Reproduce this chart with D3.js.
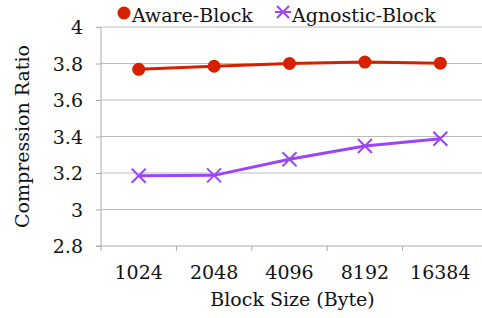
<!DOCTYPE html>
<html>
<head>
<meta charset="utf-8">
<script src="https://cdn.jsdelivr.net/npm/d3@7"></script>
<style>
  body { margin: 0; background: #fff; }
</style>
</head>
<body>
<svg class="chart"></svg>
<script>
var blockSizes = ["1024", "2048", "4096", "8192", "16384"];
var awareBlock = [3.768, 3.785, 3.800, 3.808, 3.802];
var agnosticBlock = [3.185, 3.187, 3.275, 3.348, 3.388];
var yTicks = [2.8, 3, 3.2, 3.4, 3.6, 3.8, 4];

var width = 482, height = 318;
var plotLeft = 101, plotRight = 478, plotTop = 27, plotBottom = 246;
var serif = "'DejaVu Serif', serif";
var fs = 19;

var svg = d3.select('.chart')
            .attr('width', width)
            .attr('height', height)
            .attr('font-family', serif);

var xScale = d3.scaleBand()
               .domain(blockSizes)
               .range([plotLeft, plotRight]);

var yScale = d3.scaleLinear()
               .domain([2.8, 4])
               .range([plotBottom, plotTop]);

// gridlines
svg.append('g')
   .selectAll('line')
   .data(yTicks.slice(1))
   .enter()
   .append('line')
   .attr('x1', plotLeft)
   .attr('x2', 482)
   .attr('y1', d => yScale(d))
   .attr('y2', d => yScale(d))
   .attr('stroke', '#bdbdbd')
   .attr('stroke-width', 1);

var yAxis = d3.axisLeft(yScale)
              .tickValues(yTicks)
              .tickFormat(d3.format('~g'))
              .tickSize(5)
              .tickPadding(13);

var gy = svg.append('g')
   .attr('transform', 'translate(' + plotLeft + ',0)')
   .call(yAxis);
gy.attr('font-family', serif).attr('font-size', fs);
gy.select('.domain').attr('stroke', '#aaa').attr('d', 'M0,' + plotTop + 'V' + plotBottom);
gy.selectAll('.tick line').attr('stroke', '#aaa');
gy.selectAll('.tick text').attr('dy', '0.35em').attr('fill', '#111');

var xAxis = d3.axisBottom(xScale).tickSize(0).tickPadding(20);
var gx = svg.append('g')
   .attr('transform', 'translate(0,' + plotBottom + ')')
   .call(xAxis);
gx.attr('font-family', serif).attr('font-size', fs);
gx.select('.domain').attr('stroke', '#aaa').attr('d', 'M' + (plotLeft - 5) + ',0H' + 482);
gx.selectAll('.tick text').attr('fill', '#111');

// tick marks at band boundaries
svg.append('g')
   .selectAll('line')
   .data(blockSizes)
   .enter()
   .append('line')
   .attr('x1', d => xScale(d))
   .attr('x2', d => xScale(d))
   .attr('y1', plotBottom)
   .attr('y2', plotBottom + 5)
   .attr('stroke', '#aaa');

svg.append('text')
   .attr('x', (plotLeft + plotRight) / 2 + 3)
   .attr('y', 306)
   .attr('text-anchor', 'middle')
   .attr('font-size', fs)
   .attr('fill', '#111')
   .text('Block Size (Byte)');

svg.append('text')
   .attr('transform', 'translate(29,' + ((plotTop + plotBottom) / 2) + ') rotate(-90)')
   .attr('text-anchor', 'middle')
   .attr('font-size', fs)
   .attr('fill', '#111')
   .text('Compression Ratio');

var red = '#d62000', purple = '#9b45fb';
var cx = d => xScale(d) + xScale.bandwidth() / 2;

var line = d3.line()
             .x((d, i) => cx(blockSizes[i]))
             .y(d => yScale(d));

svg.append('path')
   .datum(agnosticBlock)
   .attr('d', line)
   .attr('fill', 'none')
   .attr('stroke', purple)
   .attr('stroke-width', 3);

svg.selectAll('.xmark')
   .data(agnosticBlock)
   .enter()
   .append('path')
   .attr('class', 'xmark')
   .attr('transform', (d, i) => 'translate(' + cx(blockSizes[i]) + ',' + yScale(d) + ')')
   .attr('d', 'M-7,-7L7,7M-7,7L7,-7')
   .attr('stroke', purple)
   .attr('stroke-width', 2);

svg.append('path')
   .datum(awareBlock)
   .attr('d', line)
   .attr('fill', 'none')
   .attr('stroke', red)
   .attr('stroke-width', 3);

svg.selectAll('.dot')
   .data(awareBlock)
   .enter()
   .append('circle')
   .attr('class', 'dot')
   .attr('cx', (d, i) => cx(blockSizes[i]))
   .attr('cy', d => yScale(d))
   .attr('r', 6.5)
   .attr('fill', red);

// legend
var legend = svg.append('g').attr('font-size', fs).attr('fill', '#111');
legend.append('circle')
      .attr('cx', 124).attr('cy', 13).attr('r', 6.5)
      .attr('fill', red);
legend.append('text')
      .attr('x', 132).attr('y', 22)
      .text('Aware-Block');
legend.append('path')
      .attr('transform', 'translate(283,12)')
      .attr('d', 'M-6,-6L6,6M-6,6L6,-6M-8,0H8')
      .attr('stroke', purple)
      .attr('stroke-width', 2);
legend.append('text')
      .attr('x', 292).attr('y', 22)
      .text('Agnostic-Block');
</script>
</body>
</html>
